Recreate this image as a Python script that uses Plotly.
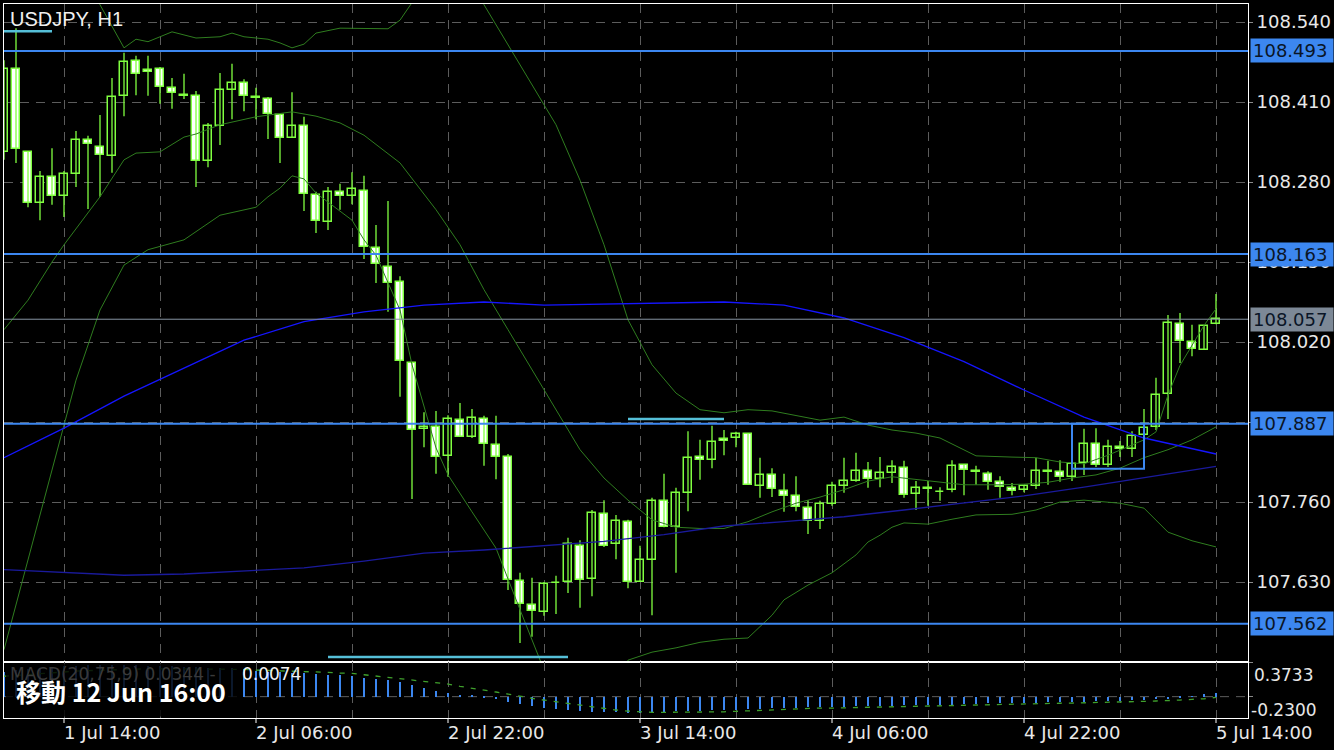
import pandas as pd
import plotly.graph_objects as go

# ---------------- data ----------------
times = pd.date_range("2019-07-01 09:00", periods=102, freq="h")

opens = [108.329,108.464,108.329,108.246,108.288,108.257,108.293,108.348,108.337,108.322,
         108.420,108.477,108.462,108.464,108.433,108.421,108.420,108.314,108.371,108.430,
         108.441,108.418,108.415,108.389,108.352,108.371,108.259,108.215,108.264,108.257,
         108.265,108.173,108.142,108.118,107.986,107.879,107.882,107.835,107.893,107.866,
         107.895,107.853,107.833,107.632,107.593,107.581,107.628,107.630,107.689,107.635,
         107.741,107.692,107.728,107.630,107.666,107.762,107.719,107.775,107.833,107.828,
         107.862,107.864,107.871,107.786,107.804,107.778,107.770,107.750,107.729,107.757,
         107.786,107.794,107.810,107.797,107.807,107.815,107.773,107.783,107.776,107.780,
         107.820,107.810,107.806,107.793,107.783,107.780,107.786,107.810,107.809,107.801,
         107.823,107.854,107.820,107.849,107.846,107.869,107.882,107.936,108.049,108.020,
         108.007,108.049]
highs = [108.478,108.530,108.329,108.298,108.335,108.298,108.363,108.355,108.389,108.449,
         108.490,108.485,108.485,108.467,108.449,108.456,108.428,108.376,108.457,108.472,
         108.447,108.433,108.418,108.389,108.426,108.386,108.264,108.272,108.277,108.296,
         108.290,108.210,108.249,108.127,107.986,107.906,107.908,107.901,107.921,107.911,
         107.900,107.900,107.838,107.645,107.637,107.630,107.640,107.702,107.698,107.747,
         107.763,107.739,107.731,107.689,107.767,107.806,107.783,107.875,107.861,107.884,
         107.877,107.874,107.871,107.832,107.815,107.806,107.802,107.763,107.762,107.793,
         107.832,107.840,107.825,107.833,107.828,107.827,107.794,107.794,107.784,107.828,
         107.820,107.819,107.810,107.802,107.791,107.786,107.832,107.827,107.828,107.832,
         107.879,107.880,107.861,107.859,107.875,107.911,107.962,108.064,108.067,108.048,
         108.046,108.098]
lows = [108.316,108.311,108.239,108.218,108.243,108.223,108.272,108.236,108.256,108.295,
        108.387,108.421,108.420,108.407,108.399,108.415,108.272,108.304,108.340,108.382,
        108.395,108.382,108.350,108.311,108.352,108.233,108.197,108.202,108.235,108.244,
        108.155,108.116,108.069,107.931,107.765,107.849,107.806,107.801,107.866,107.864,
        107.819,107.797,107.617,107.531,107.541,107.575,107.578,107.612,107.588,107.607,
        107.687,107.667,107.620,107.630,107.576,107.719,107.645,107.745,107.796,107.815,
        107.836,107.849,107.788,107.767,107.768,107.744,107.745,107.708,107.716,107.754,
        107.775,107.793,107.783,107.784,107.791,107.767,107.747,107.754,107.762,107.776,
        107.771,107.788,107.780,107.767,107.771,107.776,107.781,107.788,107.793,107.794,
        107.804,107.817,107.817,107.833,107.833,107.869,107.877,107.895,107.986,107.997,
        108.007,108.049]
closes = [108.464,108.334,108.246,108.288,108.257,108.293,108.348,108.342,108.324,108.418,
          108.475,108.456,108.459,108.434,108.425,108.420,108.314,108.371,108.430,108.441,
          108.420,108.417,108.391,108.352,108.371,108.261,108.217,108.264,108.257,108.269,
          108.174,108.147,108.116,107.989,107.877,107.882,107.833,107.895,107.866,107.897,
          107.854,107.833,107.633,107.594,107.583,107.627,107.629,107.692,107.633,107.742,
          107.689,107.729,107.630,107.666,107.762,107.719,107.775,107.832,107.828,107.858,
          107.859,107.871,107.788,107.804,107.781,107.770,107.752,107.729,107.757,107.786,
          107.794,107.810,107.797,107.807,107.817,107.771,107.783,107.781,107.777,107.819,
          107.812,107.809,107.793,107.784,107.778,107.786,107.810,107.809,107.801,107.822,
          107.854,107.820,107.849,107.846,107.867,107.880,107.934,108.051,108.022,108.009,
          108.046,108.057]

# Bollinger bands (bar index, value)
bb_up_idx = [4,7,8,10,11,12,14,16,18,19,20,22,23,24,25,26,28,31,32,33,34,35,36,38,40,42,44,45,46,48,50,52,54,56,58,
             60,62,64,66,68,70,72,74,76,78,80,81,84,86,88,90,92,94,95,96,97,98,99,100,101]
bb_up = [108.680,108.600,108.568,108.498,108.512,108.508,108.524,108.514,108.516,108.522,108.516,108.512,108.506,
         108.498,108.504,108.522,108.530,108.530,108.529,108.543,108.571,108.600,108.641,108.657,108.568,108.503,
         108.438,108.405,108.373,108.283,108.178,108.056,107.983,107.937,107.910,
         107.905,107.910,107.908,107.901,107.893,107.898,107.885,107.877,107.872,107.864,107.845,107.835,107.833,
         107.832,107.825,107.822,107.836,107.852,107.861,107.874,107.934,107.982,108.015,108.047,108.074]
bb_mid_idx = [0,2,4,5,8,10,11,13,15,16,18,21,24,26,28,30,33,36,38,40,42,44,46,48,50,52,54,56,58,60,62,64,66,68,70,
              72,74,76,78,80,83,85,87,89,91,93,95,97,99,101]
bb_mid = [108.040,108.088,108.150,108.178,108.256,108.316,108.327,108.329,108.353,108.358,108.373,108.386,108.394,
          108.387,108.376,108.356,108.311,108.235,108.178,108.105,108.040,107.975,107.910,107.845,107.799,107.763,
          107.731,107.719,107.717,107.717,107.728,107.744,107.758,107.768,107.780,107.794,107.801,107.797,107.792,
          107.788,107.788,107.789,107.792,107.799,107.804,107.815,107.832,107.845,107.861,107.882]
bb_low_idx = [0,2,4,6,8,10,12,15,18,21,22,23,24,25,26,29,30,31,33,34,36,37,39,41,43,45,48,51,52,54,56,58,60,62,
              64,65,67,69,71,72,73,74,75,77,79,81,84,86,88,90,93,95,97,99,101]
bb_low = [107.520,107.666,107.812,107.958,108.072,108.145,108.170,108.186,108.226,108.239,108.256,108.270,108.290,
          108.285,108.262,108.218,108.186,108.161,108.072,107.983,107.848,107.804,107.744,107.685,107.585,107.487,
          107.430,107.455,107.503,107.516,107.523,107.532,107.537,107.539,107.576,107.601,107.625,107.645,107.674,
          107.695,107.706,107.719,107.726,107.724,107.732,107.739,107.740,107.747,107.760,107.763,107.758,107.750,
          107.711,107.697,107.687]

# moving averages
ma_idx = [0,5,10,15,20,25,30,35,40,45,50,55,60,65,70,75,80,85,90,95,101]
ma_fast = [107.832,107.880,107.932,107.978,108.023,108.053,108.069,108.080,108.085,108.080,108.082,108.083,
           108.085,108.080,108.059,108.027,107.988,107.942,107.898,107.864,107.838]
ma_slow = [107.650,107.645,107.641,107.643,107.648,107.653,107.664,107.677,107.682,107.689,107.696,107.707,
           107.721,107.728,107.736,107.747,107.758,107.770,107.784,107.799,107.818]

# MACD(20,75,9)
macd_hist = [0.27,0.29,0.30,0.31,0.32,0.33,0.33,0.34,0.34,0.34,0.34,0.34,0.33,0.33,0.33,0.32,0.32,0.31,0.31,0.31,
             0.302,0.280,0.269,0.265,0.258,0.258,0.248,0.237,0.237,0.226,
             0.205,0.194,0.179,0.157,0.122,0.093,0.060,0.043,0.022,0.011,
             -0.014,-0.029,-0.058,-0.083,-0.101,-0.126,-0.137,-0.148,-0.155,-0.162,
             -0.166,-0.166,-0.172,-0.172,-0.166,-0.166,-0.158,-0.155,-0.151,-0.144,
             -0.144,-0.140,-0.137,-0.129,-0.123,-0.118,-0.118,-0.115,-0.112,-0.112,
             -0.108,-0.104,-0.104,-0.101,-0.101,-0.094,-0.094,-0.090,-0.090,-0.086,
             -0.083,-0.080,-0.072,-0.072,-0.068,-0.065,-0.065,-0.061,-0.058,-0.058,
             -0.054,-0.051,-0.047,-0.043,-0.040,-0.037,-0.029,-0.026,-0.015,0.003,
             0.025,0.0344]
macd_signal = [0.22,0.23,0.24,0.25,0.26,0.27,0.275,0.28,0.285,0.29,0.295,0.30,0.30,0.30,0.30,0.30,0.30,0.298,0.297,0.295,
               0.294,0.286,0.283,0.276,0.272,0.268,0.265,0.262,0.254,0.251,
               0.236,0.222,0.208,0.197,0.182,0.171,0.157,0.136,0.111,0.093,
               0.071,0.050,0.028,0.003,-0.018,-0.037,-0.055,-0.072,-0.094,-0.112,
               -0.130,-0.144,-0.155,-0.163,-0.169,-0.169,-0.169,-0.169,-0.169,-0.166,
               -0.163,-0.158,-0.152,-0.148,-0.141,-0.137,-0.130,-0.126,-0.123,-0.123,
               -0.120,-0.115,-0.112,-0.112,-0.109,-0.104,-0.104,-0.101,-0.098,-0.098,
               -0.094,-0.090,-0.087,-0.083,-0.082,-0.080,-0.076,-0.072,-0.071,-0.069,
               -0.067,-0.066,-0.064,-0.061,-0.056,-0.051,-0.047,-0.044,-0.037,-0.029,
               -0.023,-0.0074]

# horizontal levels, current price, drawn objects
levels = [108.493, 108.163, 107.887, 107.562]
current_price = 108.057
cyan_segments = [(0, 4, 108.525), (52, 60, 107.895), (27, 47, 107.508)]
box_bars = (89, 95)
box_prices = (107.814, 107.887)

price_ticks = [108.540, 108.410, 108.280, 108.150, 108.020, 107.890, 107.760, 107.630]
time_tick_bars = [5, 21, 37, 53, 69, 85, 101]
time_tick_labels = ["1 Jul 14:00", "2 Jul 06:00", "2 Jul 22:00", "3 Jul 14:00",
                    "4 Jul 06:00", "4 Jul 22:00", "5 Jul 14:00"]
grid_bars = list(range(5, 102, 8))

# ---------------- style ----------------
W, HGT = 1334, 750
ML, MR, MT, MB = 4, 86, 4, 32
PW, PH = W - ML - MR, HGT - MT - MB
HOUR = 3600 * 1000
split = 56 / PH

GREEN = "#80ff40"
BB = "#2f7d1f"
BLUE = "#3c87f0"
CYAN = "#55bfd8"
MA1 = "#1515ff"
MA2 = "#1a1a9c"
GRID = "#5c5c5c"
TXT = "#e8e8e8"
FONT = "DejaVu Sans"

fig = go.Figure()

# wicks
wx, wy = [], []
for t, lo, hi in zip(times, lows, highs):
    wx += [t, t, None]
    wy += [lo, hi, None]
fig.add_trace(go.Scatter(x=wx, y=wy, mode="lines", line=dict(color=GREEN, width=1.3),
                         hoverinfo="skip", showlegend=False))
# bodies
bases = [min(o, c) for o, c in zip(opens, closes)]
sizes = [max(abs(c - o), 0.0005) for o, c in zip(opens, closes)]
fills = ["#000000" if c >= o else "#ffffff" for o, c in zip(opens, closes)]
fig.add_trace(go.Bar(x=times, y=sizes, base=bases, width=0.6 * HOUR,
                     marker=dict(color=fills, line=dict(color=GREEN, width=1.5)),
                     hoverinfo="skip", showlegend=False))

# indicator lines
def line(idx, vals, color, width=1):
    fig.add_trace(go.Scatter(x=times[idx], y=vals, mode="lines",
                             line=dict(color=color, width=width),
                             hoverinfo="skip", showlegend=False))

line(bb_up_idx, bb_up, BB)
line(bb_mid_idx, bb_mid, BB)
line(bb_low_idx, bb_low, BB)
line(ma_idx, ma_fast, MA1, 1.3)
line(ma_idx, ma_slow, MA2, 1.3)

# MACD
fig.add_trace(go.Bar(x=times, y=macd_hist, width=0.13 * HOUR, marker=dict(color=BLUE, line=dict(width=0)),
                     xaxis="x2", yaxis="y2", hoverinfo="skip", showlegend=False))
fig.add_trace(go.Scatter(x=times, y=macd_signal, mode="lines", line=dict(color="#3fa02c", width=1.3, dash="5px,7px"),
                         xaxis="x2", yaxis="y2", hoverinfo="skip", showlegend=False))

shapes = []
for lv in levels:
    shapes.append(dict(type="line", xref="paper", x0=0, x1=1, yref="y", y0=lv, y1=lv,
                       line=dict(color=BLUE, width=2), layer="above"))
shapes.append(dict(type="line", xref="paper", x0=0, x1=1, yref="y", y0=current_price, y1=current_price,
                   line=dict(color="#8593a3", width=1), layer="above"))
for b0, b1, p in cyan_segments:
    shapes.append(dict(type="line", xref="x", x0=times[b0], x1=times[b1], yref="y", y0=p, y1=p,
                       line=dict(color=CYAN, width=2.5), layer="above"))
shapes.append(dict(type="rect", xref="x", x0=times[box_bars[0]], x1=times[box_bars[1]], yref="y",
                   y0=box_prices[0], y1=box_prices[1], line=dict(color=BLUE, width=2), layer="above"))
shapes.append(dict(type="line", xref="paper", x0=0, x1=1, yref="y2", y0=0, y1=0,
                   line=dict(color=GRID, width=1, dash="9px,7px"), layer="below"))
# dim box behind overlay text
shapes.append(dict(type="rect", xref="paper", x0=0.0015, x1=(240 - ML) / PW, yref="paper",
                   y0=0.002, y1=split - 0.002, fillcolor="rgba(0,0,0,0.82)", line=dict(width=0), layer="above"))

annotations = []
# title
annotations.append(dict(text="USDJPY, H1", xref="paper", yref="paper", x=(8 - ML) / PW, y=(HGT - MB - 19) / PH,
                        xanchor="left", yanchor="middle", showarrow=False,
                        font=dict(family="Liberation Sans", size=20, color="#f0f0f0")))
# right level labels
box_x = (1250 - ML) / PW
for lv in levels:
    annotations.append(dict(text=f"{lv:.3f}", xref="paper", yref="y", x=box_x, y=lv, xanchor="left",
                            yanchor="middle", showarrow=False, bgcolor=BLUE, width=78, height=19, borderpad=2,
                            align="left", font=dict(family=FONT, size=18, color="#0a1526")))
annotations.append(dict(text=f"{current_price:.3f}", xref="paper", yref="y", x=box_x, y=current_price,
                        xanchor="left", yanchor="middle", showarrow=False, bgcolor="#7c8896", width=78,
                        height=19, borderpad=2, align="left", font=dict(family=FONT, size=18, color="#0a1526")))
# time labels
for b, lab in zip(time_tick_bars, time_tick_labels):
    annotations.append(dict(text=lab, xref="x2", yref="paper", x=times[b], y=0, xanchor="left", yanchor="top",
                            yshift=-2, xshift=-2, showarrow=False, font=dict(family=FONT, size=18, color=TXT)))
# MACD scale labels
annotations.append(dict(text="0.3733", xref="paper", yref="y2", x=(1252 - ML) / PW, y=0.3733, xanchor="left",
                        yanchor="top", yshift=-1, showarrow=False, font=dict(family=FONT, size=17, color=TXT)))
annotations.append(dict(text="-0.2300", xref="paper", yref="y2", x=(1249 - ML) / PW, y=0, xanchor="left",
                        yanchor="top", yshift=-1, showarrow=False, font=dict(family=FONT, size=17, color=TXT)))
# MACD label
annotations.append(dict(text="MACD(20,75,9) 0.0344 -", xref="paper", yref="paper", x=(8 - ML) / PW,
                        y=(HGT - MB - 674) / PH, xanchor="left", yanchor="middle", showarrow=False,
                        font=dict(family=FONT, size=17, color="#3a3a3a")))
annotations.append(dict(text="0.0074", xref="paper", yref="paper", x=(240 - ML) / PW,
                        y=(HGT - MB - 674) / PH, xanchor="left", yanchor="middle", showarrow=False,
                        font=dict(family=FONT, size=17, color="#f2f2f2")))
annotations.append(dict(text="<b>移動 12 Jun 16:00</b>", xref="paper", yref="paper", x=(14 - ML) / PW,
                        y=(HGT - MB - 691) / PH, xanchor="left", yanchor="middle", showarrow=False,
                        font=dict(family="Noto Sans CJK JP", size=25, color="#ffffff")))

x_range = [times[0], times[0] + pd.Timedelta(hours=PW / 12)]
grid_times = list(times[grid_bars])

fig.update_layout(
    width=W, height=HGT, margin=dict(l=ML, r=MR, t=MT, b=MB),
    paper_bgcolor="#000000", plot_bgcolor="#000000",
    showlegend=False, barmode="overlay", bargap=0,
    font=dict(family=FONT, color=TXT),
    xaxis=dict(type="date", range=x_range, domain=[0, 1], anchor="y", tickmode="array", tickvals=grid_times,
               showticklabels=False, ticks="", showgrid=True, gridcolor=GRID, griddash="9px,7px", gridwidth=1,
               showline=True, linecolor="#ffffff", linewidth=1, mirror=True, zeroline=False),
    yaxis=dict(domain=[split, 1], range=[107.500, 108.56925], side="right", tickmode="array",
               tickvals=price_ticks, ticktext=[f"{v:.3f}" for v in price_ticks],
               tickfont=dict(family=FONT, size=18, color=TXT), ticks="outside", ticklen=4, tickcolor="#888888",
               showgrid=True, gridcolor=GRID, griddash="9px,7px", gridwidth=1, automargin=False,
               showline=True, linecolor="#ffffff", linewidth=1, mirror=True, zeroline=False),
    xaxis2=dict(type="date", range=x_range, domain=[0, 1], anchor="y2", matches="x", tickmode="array",
                tickvals=grid_times, showticklabels=False, ticks="", showgrid=True, gridcolor=GRID,
                griddash="9px,7px", gridwidth=1, showline=True, linecolor="#ffffff", linewidth=1, mirror=True,
                zeroline=False),
    yaxis2=dict(domain=[0, split], range=[-0.2300, 0.3733], side="right", tickmode="array",
                tickvals=[0.3733, 0], showticklabels=False, ticks="outside", ticklen=4, tickcolor="#888888",
                showgrid=False, showline=True, linecolor="#ffffff", linewidth=1, mirror=True, zeroline=False),
    shapes=shapes, annotations=annotations,
)

# white tick marks under the time labels
for b in time_tick_bars:
    fig.add_shape(type="line", xref="x2", x0=times[b], x1=times[b], yref="paper", y0=0, y1=-5 / PH,
                  line=dict(color="#ffffff", width=1))

fig.write_html("out.html", config={"displayModeBar": False},
               post_script="document.body.style.margin='0';document.body.style.overflow='hidden';")
